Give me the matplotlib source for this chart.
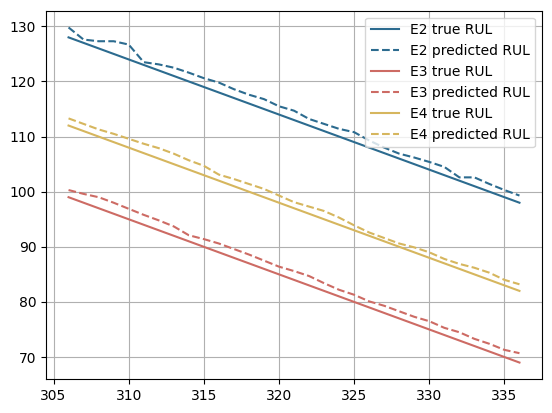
import matplotlib
matplotlib.use("Agg")
import matplotlib.pyplot as plt
import numpy as np

cycles = list(range(306, 337))

e2_true = list(range(128, 97, -1))
e3_true = list(range(99, 68, -1))
e4_true = list(range(112, 81, -1))

e2_pred = [129.8, 127.6, 127.3, 127.3, 126.7, 123.5, 123.1, 122.5, 121.6, 120.6,
           119.8, 118.6, 117.6, 116.8, 115.5, 114.7, 113.2, 112.3, 111.4, 110.8,
           109.3, 108.0, 106.9, 106.2, 105.4, 104.5, 102.6, 102.6, 101.4, 100.3, 99.3]
e3_pred = [100.3, 99.6, 99.0, 98.0, 96.9, 95.8, 94.8, 93.7, 92.1, 91.4,
           90.6, 89.6, 88.6, 87.5, 86.4, 85.6, 84.7, 83.4, 82.2, 81.3,
           80.1, 79.3, 78.3, 77.3, 76.5, 75.3, 74.5, 73.3, 72.4, 71.3, 70.7]
e4_pred = [113.3, 112.3, 111.3, 110.5, 109.6, 108.7, 107.9, 106.9, 105.7, 104.7,
           103.1, 102.3, 101.4, 100.5, 99.3, 98.1, 97.3, 96.5, 95.3, 93.9,
           92.6, 91.6, 90.6, 89.9, 89.0, 87.8, 86.9, 86.2, 85.3, 84.0, 83.2]

colors = {"E2": "#2c6b8f", "E3": "#cd6b64", "E4": "#d6b65e"}

fig, ax = plt.subplots(figsize=(5.52, 4.13), dpi=100)
fig.subplots_adjust(left=46 / 552, right=542 / 552,
                    top=1 - 10.7 / 413, bottom=1 - 379.3 / 413)

for name, true_vals, pred_vals in [("E2", e2_true, e2_pred),
                                   ("E3", e3_true, e3_pred),
                                   ("E4", e4_true, e4_pred)]:
    ax.plot(cycles, true_vals, color=colors[name], label=f"{name} true RUL")
    ax.plot(cycles, pred_vals, color=colors[name], linestyle="--",
            label=f"{name} predicted RUL")

ax.grid(True)
ax.legend(loc="upper right")

fig.savefig("out.png")
